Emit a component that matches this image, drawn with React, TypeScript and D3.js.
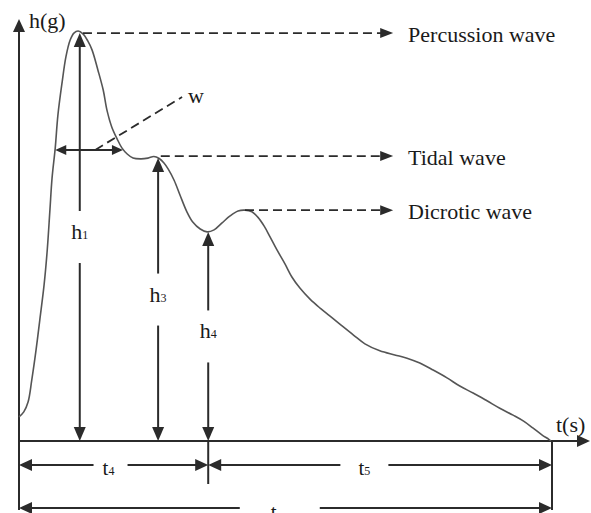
import React from "react";
import * as d3 from "d3";

// pulse waveform (normalised time 0..1, normalised height 0..1)
const pulseTime = [
  0, 0.009, 0.017, 0.024, 0.032, 0.039, 0.047, 0.053, 0.058, 0.062, 0.068, 0.073, 0.081, 0.088,
  0.096, 0.103, 0.111, 0.12, 0.129, 0.137, 0.148, 0.158, 0.165, 0.174, 0.184, 0.193, 0.203,
  0.214, 0.229, 0.242, 0.253, 0.263, 0.272, 0.28, 0.291, 0.302, 0.315, 0.326, 0.34, 0.353,
  0.366, 0.381, 0.396, 0.411, 0.424, 0.437, 0.448, 0.46, 0.471, 0.484, 0.499, 0.512, 0.527,
  0.546, 0.565, 0.583, 0.602, 0.627, 0.649, 0.677, 0.705, 0.728, 0.752, 0.777, 0.803, 0.827,
  0.852, 0.878, 0.902, 0.927, 0.946, 0.964, 0.981, 0.994, 0.998,
];
const pulseHeight = [
  0.059, 0.071, 0.095, 0.149, 0.222, 0.295, 0.38, 0.466, 0.563, 0.641, 0.715, 0.795, 0.876, 0.937,
  0.978, 0.995, 1.0, 0.993, 0.976, 0.954, 0.905, 0.856, 0.807, 0.766, 0.737, 0.715, 0.7,
  0.69, 0.688, 0.69, 0.694, 0.689, 0.678, 0.663, 0.636, 0.6, 0.559, 0.534, 0.517, 0.51,
  0.515, 0.532, 0.549, 0.561, 0.563, 0.559, 0.546, 0.524, 0.498, 0.466, 0.432, 0.4, 0.373,
  0.346, 0.324, 0.305, 0.285, 0.259, 0.237, 0.22, 0.21, 0.202, 0.19, 0.173, 0.154, 0.134,
  0.117, 0.098, 0.08, 0.063, 0.049, 0.032, 0.015, 0.004, 0,
];

// characteristic waves
const waveNames = ["Percussion wave", "Tidal wave", "Dicrotic wave"];
const waveStart = [0.12, 0.266, 0.424];
const waveLevel = [0.995, 0.695, 0.563];
const waveArrowEnd = 0.702;
const waveTextStart = 0.73;

// heights h1, h3, h4
const heightSubs = ["1", "3", "4"];
const heightTime = [0.114, 0.261, 0.355];
const heightLevel = [0.995, 0.69, 0.51];

// width w
const wLevel = 0.71;
const wFrom = 0.068;
const wTo = 0.195;
const wLeaderStart = 0.143;
const wLeaderEnd = [0.306, 0.839];
const wLabel = "w";

// time intervals
const intervalBounds = [0, 0.355, 1.0];
const intervalSubs = ["4", "5"];
const intervalLabelTime = [0.168, 0.648];
const totalLabel = "t";
const totalLabelTime = 0.478;

const W = 591;
const H = 513;
const x = d3.scaleLinear().domain([0, 1]).range([19, 552]);
const y = d3.scaleLinear().domain([0, 1]).range([441, 31]);

const INK = "#2b2b2b";
const FONT = "'Liberation Serif', 'Times New Roman', serif";

function head(tx: number, ty: number, dx: number, dy: number, len: number, hw: number) {
  const bx = tx - dx * len;
  const by = ty - dy * len;
  const px = -dy;
  const py = dx;
  return `${tx},${ty} ${bx + px * hw},${by + py * hw} ${bx - px * hw},${by - py * hw}`;
}

export default function App() {
  const line = d3
    .line<number>()
    .x((_, i) => x(pulseTime[i]))
    .y((d) => y(d))
    .curve(d3.curveCatmullRom.alpha(0.5));
  const pathD = line(pulseHeight) || "";

  const x0 = x(0);
  const y0 = y(0);
  const axisTopY = 19;
  const axisRightX = 590;
  const dimY1 = 465;
  const dimY2 = 508;

  return (
    <svg
      width={W}
      height={H}
      viewBox={`0 0 ${W} ${H}`}
      style={{ position: "absolute", left: 0, top: 0, background: "#fff" }}
    >
      <rect x={0} y={0} width={W} height={H} fill="#fff" />
      {/* axes */}
      <line x1={x0} y1={510} x2={x0} y2={axisTopY + 10} stroke={INK} strokeWidth={2} />
      <polygon points={head(x0, axisTopY, 0, -1, 13, 6)} fill={INK} />
      <line x1={x0} y1={y0} x2={axisRightX - 10} y2={y0} stroke={INK} strokeWidth={2} />
      <polygon points={head(axisRightX, y0, 1, 0, 13, 6)} fill={INK} />
      <text x={29} y={28} fontFamily={FONT} fontSize={22} fill="#1a1a1a">h(g)</text>
      <text x={556} y={432} fontFamily={FONT} fontSize={22} fill="#1a1a1a">t(s)</text>

      {/* waveform */}
      <path d={pathD} fill="none" stroke="#555" strokeWidth={1.6} />

      {/* wave labels */}
      {waveNames.map((name, i) => {
        const yy = y(waveLevel[i]);
        const tip = x(waveArrowEnd);
        return (
          <g key={name}>
            <line
              x1={x(waveStart[i])}
              y1={yy}
              x2={tip - 12}
              y2={yy}
              stroke={INK}
              strokeWidth={1.8}
              strokeDasharray="9,5"
            />
            <polygon points={head(tip, yy, 1, 0, 13, 5)} fill={INK} />
            <text x={x(waveTextStart)} y={yy + 9} fontFamily={FONT} fontSize={22} fill="#1a1a1a">
              {name}
            </text>
          </g>
        );
      })}

      {/* heights */}
      {heightSubs.map((sub, i) => {
        const xx = x(heightTime[i]);
        const top = y(heightLevel[i]);
        const mid = (top + y0) / 2;
        return (
          <g key={sub}>
            <line x1={xx} y1={top + 10} x2={xx} y2={mid - 26} stroke={INK} strokeWidth={2} />
            <line x1={xx} y1={mid + 26} x2={xx} y2={y0 - 10} stroke={INK} strokeWidth={2} />
            <polygon points={head(xx, top, 0, -1, 14, 6)} fill={INK} />
            <polygon points={head(xx, y0, 0, 1, 14, 6)} fill={INK} />
            <text x={xx} y={mid + 2} textAnchor="middle" fontFamily={FONT} fontSize={22} fill="#1a1a1a">
              h<tspan fontSize={12}>{sub}</tspan>
            </text>
          </g>
        );
      })}

      {/* width w */}
      <line x1={x(wFrom) + 6} y1={y(wLevel)} x2={x(wTo) - 6} y2={y(wLevel)} stroke={INK} strokeWidth={2} />
      <polygon points={head(x(wFrom), y(wLevel), -1, 0, 11, 5)} fill={INK} />
      <polygon points={head(x(wTo), y(wLevel), 1, 0, 11, 5)} fill={INK} />
      <line
        x1={x(wLeaderStart)}
        y1={y(wLevel)}
        x2={x(wLeaderEnd[0])}
        y2={y(wLeaderEnd[1])}
        stroke={INK}
        strokeWidth={1.8}
        strokeDasharray="9,5"
      />
      <text x={x(wLeaderEnd[0]) + 6} y={y(wLeaderEnd[1]) + 6} fontFamily={FONT} fontSize={22} fill="#1a1a1a">
        {wLabel}
      </text>

      {/* time intervals */}
      <line x1={x(intervalBounds[1])} y1={y0} x2={x(intervalBounds[1])} y2={484} stroke={INK} strokeWidth={2} />
      <line x1={x(intervalBounds[2])} y1={y0} x2={x(intervalBounds[2])} y2={510} stroke={INK} strokeWidth={2} />
      {intervalSubs.map((sub, i) => {
        const a = x(intervalBounds[i]);
        const b = x(intervalBounds[i + 1]);
        const c = x(intervalLabelTime[i]);
        const gap = i === 0 ? 15 : 24;
        return (
          <g key={sub}>
            <line x1={a + 8} y1={dimY1} x2={c - gap} y2={dimY1} stroke={INK} strokeWidth={2} />
            <line x1={c + gap + (i === 0 ? 4 : 0)} y1={dimY1} x2={b - 8} y2={dimY1} stroke={INK} strokeWidth={2} />
            <polygon points={head(a, dimY1, -1, 0, 13, 6)} fill={INK} />
            <polygon points={head(b, dimY1, 1, 0, 13, 6)} fill={INK} />
            <text x={c} y={dimY1 + 10} textAnchor="middle" fontFamily={FONT} fontSize={21} fill="#1a1a1a">
              t<tspan fontSize={12}>{sub}</tspan>
            </text>
          </g>
        );
      })}
      <line x1={x(0) + 8} y1={dimY2} x2={x(totalLabelTime) - 34} y2={dimY2} stroke={INK} strokeWidth={2} />
      <line x1={x(totalLabelTime) + 46} y1={dimY2} x2={x(1) - 8} y2={dimY2} stroke={INK} strokeWidth={2} />
      <polygon points={head(x(0), dimY2, -1, 0, 13, 6)} fill={INK} />
      <polygon points={head(x(1), dimY2, 1, 0, 13, 6)} fill={INK} />
      <text x={x(totalLabelTime)} y={dimY2 + 11} textAnchor="middle" fontFamily={FONT} fontSize={21} fill="#1a1a1a">
        {totalLabel}
      </text>
    </svg>
  );
}
